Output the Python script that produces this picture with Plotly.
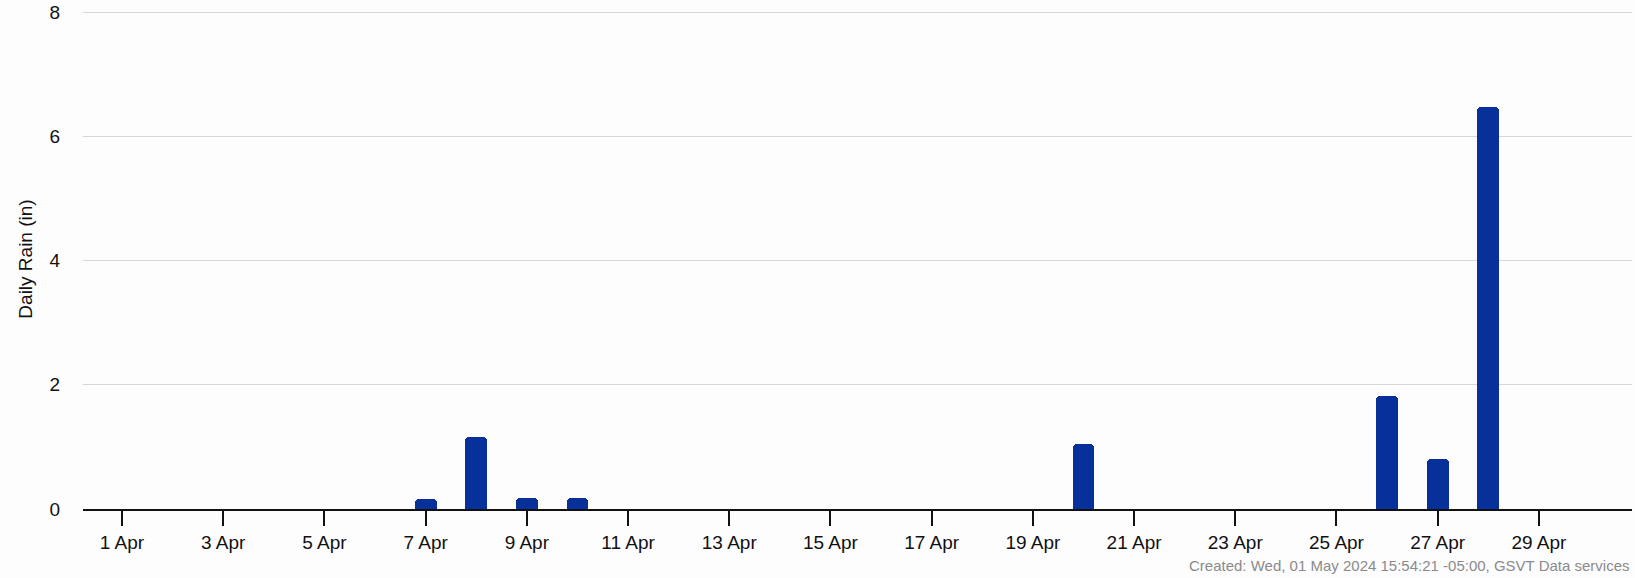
import plotly.graph_objects as go
import pandas as pd

dates = pd.date_range("2024-04-01", "2024-04-30", freq="D").strftime("%Y-%m-%d").tolist()
rain = [0, 0, 0, 0, 0, 0, 0.16, 1.16, 0.18, 0.18,
        0, 0, 0, 0, 0, 0, 0, 0, 0, 1.05,
        0, 0, 0, 0, 0, 1.82, 0.80, 6.47, 0, 0]
y_ticks = [0, 2, 4, 6, 8]
footer = "Created: Wed, 01 May 2024 15:54:21 -05:00, GSVT Data services"

DAY_MS = 86400000
W, H = 1635, 578
FONT = "Liberation Sans, Arial, sans-serif"
BG = "#fefdfe"

fig = go.Figure(go.Bar(
    x=dates, y=rain,
    width=0.43 * DAY_MS,
    marker=dict(color="#08309a", line=dict(width=0), cornerradius=4),
))

x0 = pd.Timestamp("2024-04-01") - pd.Timedelta(days=0.771)
x1 = pd.Timestamp("2024-04-01") + pd.Timedelta(days=29.84)

fig.update_layout(
    width=W, height=H,
    margin=dict(l=83, r=3, t=9, b=69),
    paper_bgcolor=BG, plot_bgcolor=BG,
    font=dict(family=FONT, size=19, color="#111111"),
    showlegend=False,
    bargap=0,
    xaxis=dict(
        type="date", range=[x0, x1],
        tick0="2024-04-01", dtick=2 * DAY_MS, tickformat="%-d %b",
        ticks="outside", ticklen=15, tickwidth=1.5, tickcolor="#111111",
        showline=True, linecolor="#111111", linewidth=2,
        showgrid=False, zeroline=False,
        tickfont=dict(size=19, family=FONT, color="#111111"),
    ),
    yaxis=dict(
        range=[0, 8.05], tickvals=y_ticks,
        showgrid=True, gridcolor="#d6d6d6", gridwidth=1,
        zeroline=False, showline=False, ticks="",
        ticklabelstandoff=22,
        tickfont=dict(size=19, family=FONT, color="#111111"),
        title=dict(text="Daily Rain (in)", font=dict(size=19, family=FONT, color="#111111"), standoff=11),
    ),
    annotations=[dict(
        text=footer, xref="paper", yref="paper",
        x=1, y=0, xanchor="right", yanchor="middle",
        yshift=-(565 - 509), xshift=0,
        showarrow=False,
        font=dict(size=15, family=FONT, color="#8a8a8a"),
    )],
)

fig.write_html(
    "out.html",
    config={"displayModeBar": False},
    post_script="document.body.style.margin='0';document.body.style.background='%s';" % BG,
)
